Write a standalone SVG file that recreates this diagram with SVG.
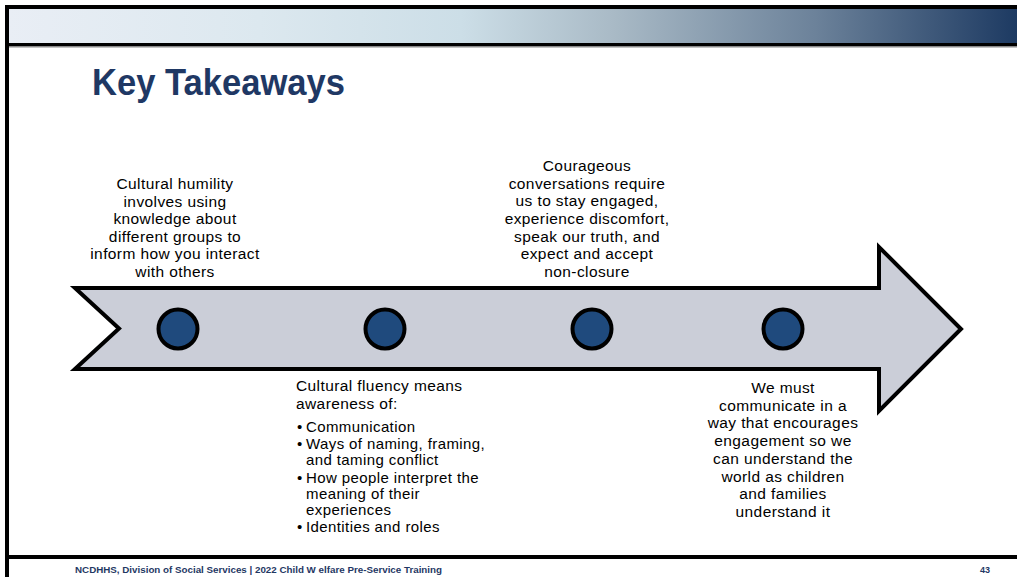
<svg xmlns="http://www.w3.org/2000/svg" width="1017" height="577" viewBox="0 0 1017 577">
<defs>
<linearGradient id="band" x1="0" y1="0" x2="1" y2="0">
<stop offset="0" stop-color="#E9EEF5"/>
<stop offset="0.25" stop-color="#DCE8EF"/>
<stop offset="0.45" stop-color="#CCDEE7"/>
<stop offset="0.6" stop-color="#A9BAC6"/>
<stop offset="0.8" stop-color="#6C829A"/>
<stop offset="1" stop-color="#1D3A62"/>
</linearGradient>
<style>
.body{font-family:"Liberation Sans",Arial,sans-serif;font-size:15.5px;letter-spacing:0.4px;fill:#000}
.c{text-anchor:middle}
.bul{font-size:15px}
.dot{fill:#1F4A7D;stroke:#000;stroke-width:4}
.foot{font-family:"Liberation Sans",Arial,sans-serif;font-weight:bold;font-size:9px;fill:#1F3864}
</style>
</defs>
<rect width="1017" height="577" fill="#fff"/>
<g id="frame">
<rect x="7" y="9" width="1010" height="34" fill="url(#band)"/>
<rect x="5" y="5" width="1012" height="4" fill="#000"/>
<rect x="5" y="43" width="1012" height="3" fill="#000"/>
<rect x="5" y="46" width="1012" height="1.5" fill="#8A8A8A"/>
<rect x="5" y="5" width="4" height="572" fill="#000"/>
<rect x="5" y="555" width="1012" height="4" fill="#000"/>
</g>
<g id="title">
<text x="92" y="95" font-family="'Liberation Sans',Arial,sans-serif" font-weight="bold" font-size="36" fill="#1F3864" textLength="253" lengthAdjust="spacingAndGlyphs">Key Takeaways</text>
</g>
<g id="connectors">
<polygon id="arrow" points="75,288 879,288 879,247 961,329 879,411 879,369 75,369 119,328.5" fill="#CBCED8" stroke="#000" stroke-width="4" stroke-linejoin="miter"/>
</g>
<g id="node1">
<circle class="dot" cx="178" cy="329" r="19.5"/>
<text class="body c" x="175"><tspan x="175" y="189">Cultural humility</tspan><tspan x="175" y="206.6">involves using</tspan><tspan x="175" y="224.2">knowledge about</tspan><tspan x="175" y="241.8">different groups to</tspan><tspan x="175" y="259.4">inform how you interact</tspan><tspan x="175" y="277">with others</tspan></text>
</g>
<g id="node2">
<circle class="dot" cx="385" cy="329" r="19.5"/>
<text class="body" x="296"><tspan x="296" y="391">Cultural fluency means</tspan><tspan x="296" y="409">awareness of:</tspan></text>
<text class="body bul"><tspan x="297" y="432">•</tspan><tspan x="306" y="432">Communication</tspan><tspan x="297" y="449">•</tspan><tspan x="306" y="449">Ways of naming, framing,</tspan><tspan x="306" y="465">and taming conflict</tspan><tspan x="297" y="483">•</tspan><tspan x="306" y="483">How people interpret the</tspan><tspan x="306" y="499">meaning of their</tspan><tspan x="306" y="515">experiences</tspan><tspan x="297" y="532">•</tspan><tspan x="306" y="532">Identities and roles</tspan></text>
</g>
<g id="node3">
<circle class="dot" cx="592" cy="329" r="19.5"/>
<text class="body c" x="587"><tspan x="587" y="171">Courageous</tspan><tspan x="587" y="188.7">conversations require</tspan><tspan x="587" y="206.3">us to stay engaged,</tspan><tspan x="587" y="224">experience discomfort,</tspan><tspan x="587" y="241.7">speak our truth, and</tspan><tspan x="587" y="259.3">expect and accept</tspan><tspan x="587" y="277">non-closure</tspan></text>
</g>
<g id="node4">
<circle class="dot" cx="783" cy="329" r="19.5"/>
<text class="body c" x="783"><tspan x="783" y="393">We must</tspan><tspan x="783" y="410.7">communicate in a</tspan><tspan x="783" y="428.4">way that encourages</tspan><tspan x="783" y="446.1">engagement so we</tspan><tspan x="783" y="463.8">can understand the</tspan><tspan x="783" y="481.5">world as children</tspan><tspan x="783" y="499.2">and families</tspan><tspan x="783" y="517">understand it</tspan></text>
</g>
<g id="footer">
<text class="foot" x="75" y="573" textLength="367" lengthAdjust="spacingAndGlyphs">NCDHHS, Division of Social Services | 2022 Child W elfare Pre-Service Training</text>
<text class="foot" x="980" y="573">43</text>
</g>
</svg>
